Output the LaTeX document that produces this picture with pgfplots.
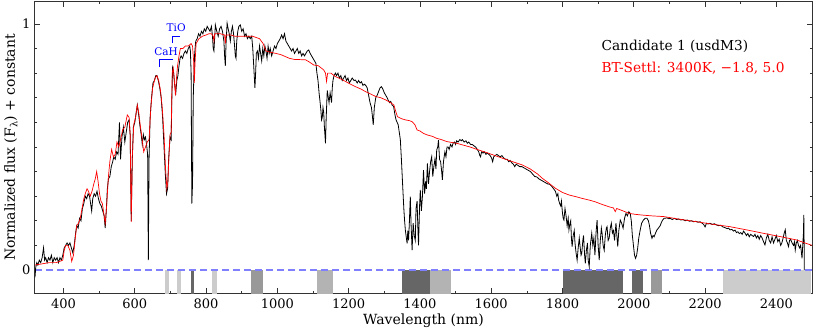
\documentclass[border=0pt]{standalone}
\usepackage{fontspec}
\setmainfont{DejaVu Serif}
\usepackage{pgfplots}
\pgfplotsset{compat=1.18}
\definecolor{bandA}{HTML}{666666}
\definecolor{bandB}{HTML}{999999}
\definecolor{bandC}{HTML}{B3B3B3}
\definecolor{bandD}{HTML}{CCCCCC}
\definecolor{zeroline}{HTML}{8080FF}
\definecolor{annot}{HTML}{0000FF}

\pgfplotstableread{
nm f
320 -0.03
322 0.01
325 0.03
328 0.02
332 0.04
336 0.03
340 0.05
344 0.09
347 0.04
350 0.05
354 0.03
358 0.05
362 0.04
366 0.06
370 0.03
374 0.05
378 0.04
382 0.05
386 0.03
390 0.05
394 0.04
398 0.06
402 0.09
406 0.10
410 0.11
414 0.10
418 0.11
422 0.09
426 0.07
430 0.10
434 0.15
437 0.18
441 0.17
445 0.21
449 0.20
453 0.25
457 0.27
461 0.30
465 0.29
469 0.31
473 0.30
477 0.26
479 0.24
482 0.29
486 0.31
490 0.30
494 0.32
498 0.29
502 0.27
506 0.26
510 0.24
514 0.22
517 0.17
520 0.24
523 0.33
526 0.37
530 0.38
534 0.42
538 0.44
541 0.46
545 0.45
549 0.48
553 0.47
557 0.60
560 0.45
564 0.54
568 0.58
572 0.52
576 0.56
580 0.60
584 0.61
587 0.55
590 0.20
593 0.45
596 0.58
600 0.60
604 0.64
607 0.67
611 0.63
614 0.59
618 0.55
621 0.51
624 0.55
627 0.53
630 0.54
633 0.51
636 0.47
638 0.04
640 0.45
643 0.62
647 0.70
651 0.76
655 0.77
659 0.79
662 0.79
666 0.77
670 0.74
674 0.70
678 0.62
682 0.50
686 0.38
689 0.31
692 0.33
695 0.45
697 0.50
699 0.54
702 0.53
704 0.70
706 0.82
709 0.80
712 0.75
715 0.72
718 0.77
721 0.79
724 0.83
727 0.86
730 0.87
734 0.86
738 0.88
742 0.89
746 0.88
750 0.90
754 0.91
756 0.89
758 0.80
760 0.27
762 0.35
764 0.70
766 0.80
768 0.88
771 0.93
775 0.94
779 0.96
783 0.95
787 0.97
791 0.96
795 0.98
799 0.97
803 0.99
807 0.98
811 0.97
815 0.99
818 0.95
820 0.90
822 0.89
824 0.94
826 0.996
830 0.97
834 0.95
838 0.98
842 0.99
846 0.97
850 0.93
852 0.87
854 0.83
856 0.92
859 1.003
862 0.98
865 0.96
868 0.93
871 0.97
874 0.99
877 0.96
880 0.91
882 0.87
884 0.86
886 0.93
889 0.97
892 0.99
896 0.996
900 0.97
904 0.98
908 0.95
912 0.96
916 0.94
920 0.95
924 0.94
928 0.95
931 0.90
934 0.82
937 0.74
939 0.80
941 0.88
944 0.89
947 0.86
950 0.91
953 0.88
956 0.85
959 0.90
962 0.87
965 0.91
968 0.89
971 0.86
974 0.91
977 0.88
980 0.90
984 0.87
988 0.89
992 0.91
996 0.90
1000 0.92
1004 0.93
1008 0.94
1012 0.955
1016 0.94
1020 0.96
1024 0.93
1028 0.92
1032 0.91
1036 0.90
1040 0.89
1044 0.90
1048 0.88
1052 0.89
1056 0.90
1060 0.88
1064 0.89
1068 0.87
1072 0.88
1076 0.87
1080 0.88
1084 0.89
1088 0.894
1092 0.88
1096 0.87
1100 0.86
1104 0.85
1108 0.84
1111 0.80
1114 0.77
1117 0.72
1120 0.68
1122 0.65
1124 0.61
1126 0.62
1128 0.66
1130 0.64
1132 0.58
1135 0.515
1137 0.62
1140 0.73
1143 0.70
1145 0.68
1148 0.72
1150 0.70
1152 0.68
1154 0.74
1156 0.77
1159 0.79
1163 0.80
1166 0.79
1170 0.80
1174 0.78
1178 0.79
1182 0.77
1186 0.78
1190 0.79
1194 0.77
1198 0.78
1202 0.76
1206 0.77
1210 0.78
1215 0.77
1219 0.772
1224 0.76
1228 0.77
1232 0.76
1236 0.765
1240 0.75
1244 0.755
1248 0.75
1252 0.74
1256 0.71
1260 0.68
1264 0.66
1267 0.62
1269 0.59
1272 0.66
1276 0.70
1280 0.71
1284 0.725
1288 0.74
1292 0.745
1296 0.735
1300 0.72
1304 0.71
1308 0.70
1311 0.69
1315 0.68
1318 0.685
1322 0.67
1326 0.665
1330 0.63
1333 0.61
1336 0.60
1339 0.59
1342 0.56
1345 0.53
1348 0.45
1350 0.39
1352 0.33
1355 0.244
1357 0.20
1359 0.163
1361 0.14
1364 0.108
1366 0.16
1368 0.12
1370 0.18
1373 0.298
1375 0.19
1378 0.081
1381 0.19
1384 0.14
1387 0.12
1389 0.25
1392 0.28
1394 0.18
1396 0.10
1399 0.26
1401 0.325
1404 0.24
1407 0.30
1410 0.406
1413 0.31
1416 0.36
1418 0.33
1421 0.433
1424 0.35
1427 0.40
1430 0.44
1433 0.46
1436 0.38
1439 0.42
1442 0.45
1445 0.41
1447 0.488
1450 0.50
1452 0.528
1455 0.45
1458 0.44
1461 0.40
1463 0.366
1466 0.44
1470 0.48
1473 0.46
1476 0.50
1479 0.50
1482 0.49
1486 0.51
1490 0.50
1493 0.515
1497 0.52
1500 0.51
1503 0.525
1507 0.52
1512 0.53
1516 0.525
1519 0.53
1524 0.52
1529 0.525
1533 0.515
1537 0.52
1542 0.51
1547 0.51
1551 0.505
1556 0.50
1561 0.49
1565 0.48
1568 0.465
1570 0.46
1573 0.48
1577 0.475
1581 0.48
1585 0.47
1589 0.475
1593 0.47
1597 0.465
1601 0.455
1604 0.44
1607 0.46
1611 0.465
1616 0.47
1620 0.465
1625 0.46
1630 0.465
1635 0.455
1640 0.45
1645 0.45
1649 0.44
1653 0.445
1658 0.435
1662 0.43
1666 0.42
1670 0.43
1675 0.425
1680 0.42
1686 0.42
1692 0.415
1698 0.41
1704 0.405
1710 0.40
1716 0.39
1722 0.38
1728 0.378
1734 0.37
1740 0.365
1746 0.36
1752 0.355
1758 0.35
1764 0.348
1770 0.34
1775 0.33
1780 0.32
1784 0.30
1787 0.31
1789 0.285
1792 0.27
1795 0.26
1797 0.28
1800 0.23
1802 0.21
1804 0.203
1807 0.25
1810 0.22
1813 0.18
1816 0.21
1818 0.163
1821 0.19
1823 0.20
1825 0.13
1827 0.095
1830 0.14
1833 0.16
1835 0.11
1838 0.07
1841 0.04
1844 0.09
1847 0.13
1849 0.10
1852 0.06
1854 0.068
1857 0.12
1859 0.14
1862 0.06
1864 0.027
1867 0.08
1870 0.11
1872 0.04
1875 0.014
1878 0.10
1882 0.149
1885 0.10
1888 0.13
1891 0.06
1894 0.15
1897 0.203
1900 0.10
1903 0.04
1906 0.12
1909 0.17
1911 0.15
1914 0.10
1917 0.08
1920 0.14
1923 0.17
1925 0.176
1928 0.12
1931 0.13
1934 0.17
1937 0.19
1940 0.15
1943 0.16
1946 0.12
1950 0.19
1953 0.13
1955 0.095
1958 0.16
1962 0.203
1966 0.19
1970 0.17
1974 0.21
1978 0.23
1982 0.22
1986 0.237
1990 0.23
1993 0.20
1996 0.14
1999 0.10
2002 0.06
2005 0.047
2008 0.06
2011 0.09
2014 0.13
2018 0.163
2022 0.19
2027 0.203
2032 0.21
2037 0.21
2041 0.20
2044 0.18
2047 0.15
2051 0.129
2054 0.14
2057 0.135
2061 0.15
2065 0.163
2069 0.17
2074 0.18
2078 0.195
2081 0.203
2085 0.21
2088 0.21
2093 0.212
2098 0.208
2102 0.21
2108 0.205
2114 0.21
2120 0.205
2126 0.207
2132 0.203
2138 0.205
2144 0.20
2150 0.203
2156 0.198
2162 0.20
2168 0.196
2174 0.198
2180 0.194
2186 0.196
2192 0.19
2196 0.185
2200 0.175
2204 0.19
2208 0.187
2214 0.19
2220 0.185
2226 0.188
2232 0.183
2238 0.18
2244 0.182
2250 0.175
2256 0.172
2262 0.168
2266 0.17
2270 0.163
2275 0.165
2280 0.158
2284 0.162
2288 0.152
2292 0.155
2296 0.148
2300 0.152
2304 0.145
2308 0.158
2312 0.15
2316 0.14
2320 0.148
2324 0.135
2328 0.145
2332 0.14
2336 0.136
2340 0.145
2344 0.13
2348 0.14
2352 0.125
2356 0.14
2360 0.13
2364 0.115
2368 0.102
2372 0.13
2376 0.145
2380 0.12
2384 0.11
2388 0.135
2392 0.11
2396 0.125
2400 0.14
2404 0.115
2408 0.125
2412 0.10
2415 0.108
2419 0.13
2422 0.15
2425 0.163
2428 0.12
2431 0.11
2434 0.095
2437 0.12
2440 0.125
2444 0.11
2448 0.10
2451 0.115
2453 0.081
2456 0.11
2459 0.12
2462 0.10
2465 0.09
2468 0.10
2470 0.075
2472 0.047
2474 0.10
2476 0.15
2477 0.224
2478 0.10
2478.5 0.0
}\observed

\pgfplotstableread{
nm f
320 0.02
340 0.025
360 0.03
380 0.03
398 0.04
402 0.08
406 0.10
412 0.10
418 0.08
423 0.035
428 0.06
433 0.13
437 0.18
442 0.19
447 0.21
452 0.25
457 0.29
461 0.31
466 0.33
470 0.32
475 0.30
480 0.32
485 0.35
489 0.37
493 0.40
497 0.36
501 0.31
505 0.28
509 0.27
513 0.23
517 0.19
521 0.26
526 0.38
530 0.44
535 0.49
540 0.46
545 0.47
550 0.52
555 0.50
560 0.53
566 0.57
572 0.58
579 0.63
584 0.62
587 0.55
590 0.196
593 0.46
597 0.59
602 0.62
607 0.67
611 0.64
616 0.58
620 0.54
625 0.48
630 0.50
635 0.52
640 0.53
645 0.66
650 0.74
657 0.78
662 0.79
667 0.77
672 0.73
677 0.66
682 0.55
686 0.42
690 0.33
693 0.36
696 0.47
699 0.55
702 0.56
705 0.80
708 0.82
711 0.77
714 0.71
717 0.78
720 0.83
724 0.87
728 0.90
735 0.90
742 0.91
750 0.91
758 0.92
762 0.91
765 0.85
767 0.76
769 0.84
772 0.92
780 0.94
790 0.95
800 0.955
808 0.96
815 0.96
820 0.95
822 0.93
824 0.96
840 0.96
852 0.955
854 0.92
856 0.955
870 0.955
880 0.95
900 0.95
920 0.95
930 0.95
940 0.945
950 0.94
960 0.92
968 0.89
980 0.885
996 0.88
1010 0.875
1034 0.86
1050 0.855
1062 0.855
1079 0.854
1090 0.845
1102 0.833
1115 0.83
1130 0.813
1135 0.80
1138 0.766
1141 0.80
1150 0.80
1163 0.786
1180 0.775
1191 0.766
1205 0.755
1219 0.745
1235 0.735
1247 0.725
1262 0.715
1276 0.705
1290 0.70
1304 0.691
1318 0.68
1327 0.67
1333 0.64
1337 0.623
1348 0.615
1359 0.61
1370 0.607
1378 0.603
1386 0.59
1392 0.569
1400 0.565
1410 0.555
1420 0.549
1435 0.543
1447 0.535
1460 0.53
1475 0.522
1490 0.518
1503 0.515
1520 0.508
1540 0.50
1560 0.49
1593 0.474
1620 0.46
1650 0.445
1687 0.427
1710 0.41
1730 0.39
1743 0.373
1760 0.355
1780 0.332
1800 0.315
1818 0.305
1840 0.297
1855 0.291
1875 0.284
1892 0.277
1910 0.267
1930 0.257
1943 0.252
1948 0.237
1952 0.25
1970 0.24
1987 0.23
2005 0.226
2025 0.223
2050 0.22
2084 0.217
2130 0.206
2177 0.196
2220 0.186
2270 0.176
2320 0.162
2364 0.149
2410 0.136
2457 0.122
2480 0.11
2500 0.10
}\model

\begin{document}
\begin{tikzpicture}
\begin{axis}[
  scale only axis, width=777pt, height=291pt,
  xmin=320, xmax=2500, ymin=-0.0935, ymax=1.089,
  axis line style={black!80, line width=1pt},
  xtick={400,600,...,2400}, minor x tick num=1,
  ytick={0,1}, minor ytick={0.1,0.2,...,0.9},
  major tick length=5pt, minor tick length=2.5pt,
  tick style={black!80, line width=0.6pt},
  /pgf/number format/assume math mode=true,
  /pgf/number format/1000 sep={},
  tick label style={font=\fontsize{13}{15}\selectfont},
  xticklabel style={yshift=-2pt},
  yticklabel style={xshift=-1pt},
  label style={font=\fontsize{14}{16}\selectfont},
  xlabel={Wavelength (nm)},
  ylabel={Normalized flux (F\textsubscript{λ}) + constant},
  xlabel style={yshift=1pt},
  ylabel style={yshift=-2pt},
]
\addplot[fill=bandD, draw=none] coordinates {(686,-0.2) (686,0) (695,0) (695,-0.2)} -- cycle;
\addplot[fill=bandD, draw=none] coordinates {(717,-0.2) (717,0) (731,0) (731,-0.2)} -- cycle;
\addplot[fill=bandA, draw=none] coordinates {(759,-0.2) (759,0) (765,0) (765,-0.2)} -- cycle;
\addplot[fill=bandD, draw=none] coordinates {(818,-0.2) (818,0) (832,0) (832,-0.2)} -- cycle;
\addplot[fill=bandB, draw=none] coordinates {(927,-0.2) (927,0) (961,0) (961,-0.2)} -- cycle;
\addplot[fill=bandC, draw=none] coordinates {(1112,-0.2) (1112,0) (1157,0) (1157,-0.2)} -- cycle;
\addplot[fill=bandA, draw=none] coordinates {(1351,-0.2) (1351,0) (1427,0) (1427,-0.2)} -- cycle;
\addplot[fill=bandC, draw=none] coordinates {(1429,-0.2) (1429,0) (1488,0) (1488,-0.2)} -- cycle;
\addplot[fill=bandA, draw=none] coordinates {(1802,-0.2) (1802,0) (1971,0) (1971,-0.2)} -- cycle;
\addplot[fill=bandA, draw=none] coordinates {(1996,-0.2) (1996,0) (2027,0) (2027,-0.2)} -- cycle;
\addplot[fill=bandB, draw=none] coordinates {(2047,-0.2) (2047,0) (2080,0) (2080,-0.2)} -- cycle;
\addplot[fill=bandD, draw=none] coordinates {(2251,-0.2) (2251,0) (2497,0) (2497,-0.2)} -- cycle;

\addplot[zeroline, line width=1.3pt, dash pattern=on 7pt off 4pt] coordinates {(320,0) (2500,0)};

\addplot[black, line width=0.8pt] table[x=nm, y=f] {\observed};
\addplot[red, line width=0.7pt] table[x=nm, y=f] {\model};

% band labels
\draw[draw=annot, line width=0.7pt] (axis cs:670,0.826) -- (axis cs:670,0.857) -- (axis cs:708,0.857);
\node[text=annot, font=\fontsize{10.5}{12}\selectfont, anchor=base] at (axis cs:688,0.872) {CaH};
\draw[draw=annot, line width=0.7pt] (axis cs:705,0.924) -- (axis cs:705,0.951) -- (axis cs:728,0.951);
\node[text=annot, font=\fontsize{10.5}{12}\selectfont, anchor=base] at (axis cs:716,0.968) {TiO};

\node[anchor=base west, font=\fontsize{13.7}{15}\selectfont, text=black] at (rel axis cs:0.7246,0.835) {Candidate 1 (usdM3)};
\node[anchor=base west, font=\fontsize{13.7}{15}\selectfont, text=red] at (rel axis cs:0.7246,0.759) {BT-Settl: 3400K, −1.8, 5.0};
\end{axis}
\pgfresetboundingbox
\path[use as bounding box] ([xshift=-35pt,yshift=-39pt]current axis.south west) rectangle ([xshift=18pt,yshift=2pt]current axis.north east);
\end{tikzpicture}
\end{document}
